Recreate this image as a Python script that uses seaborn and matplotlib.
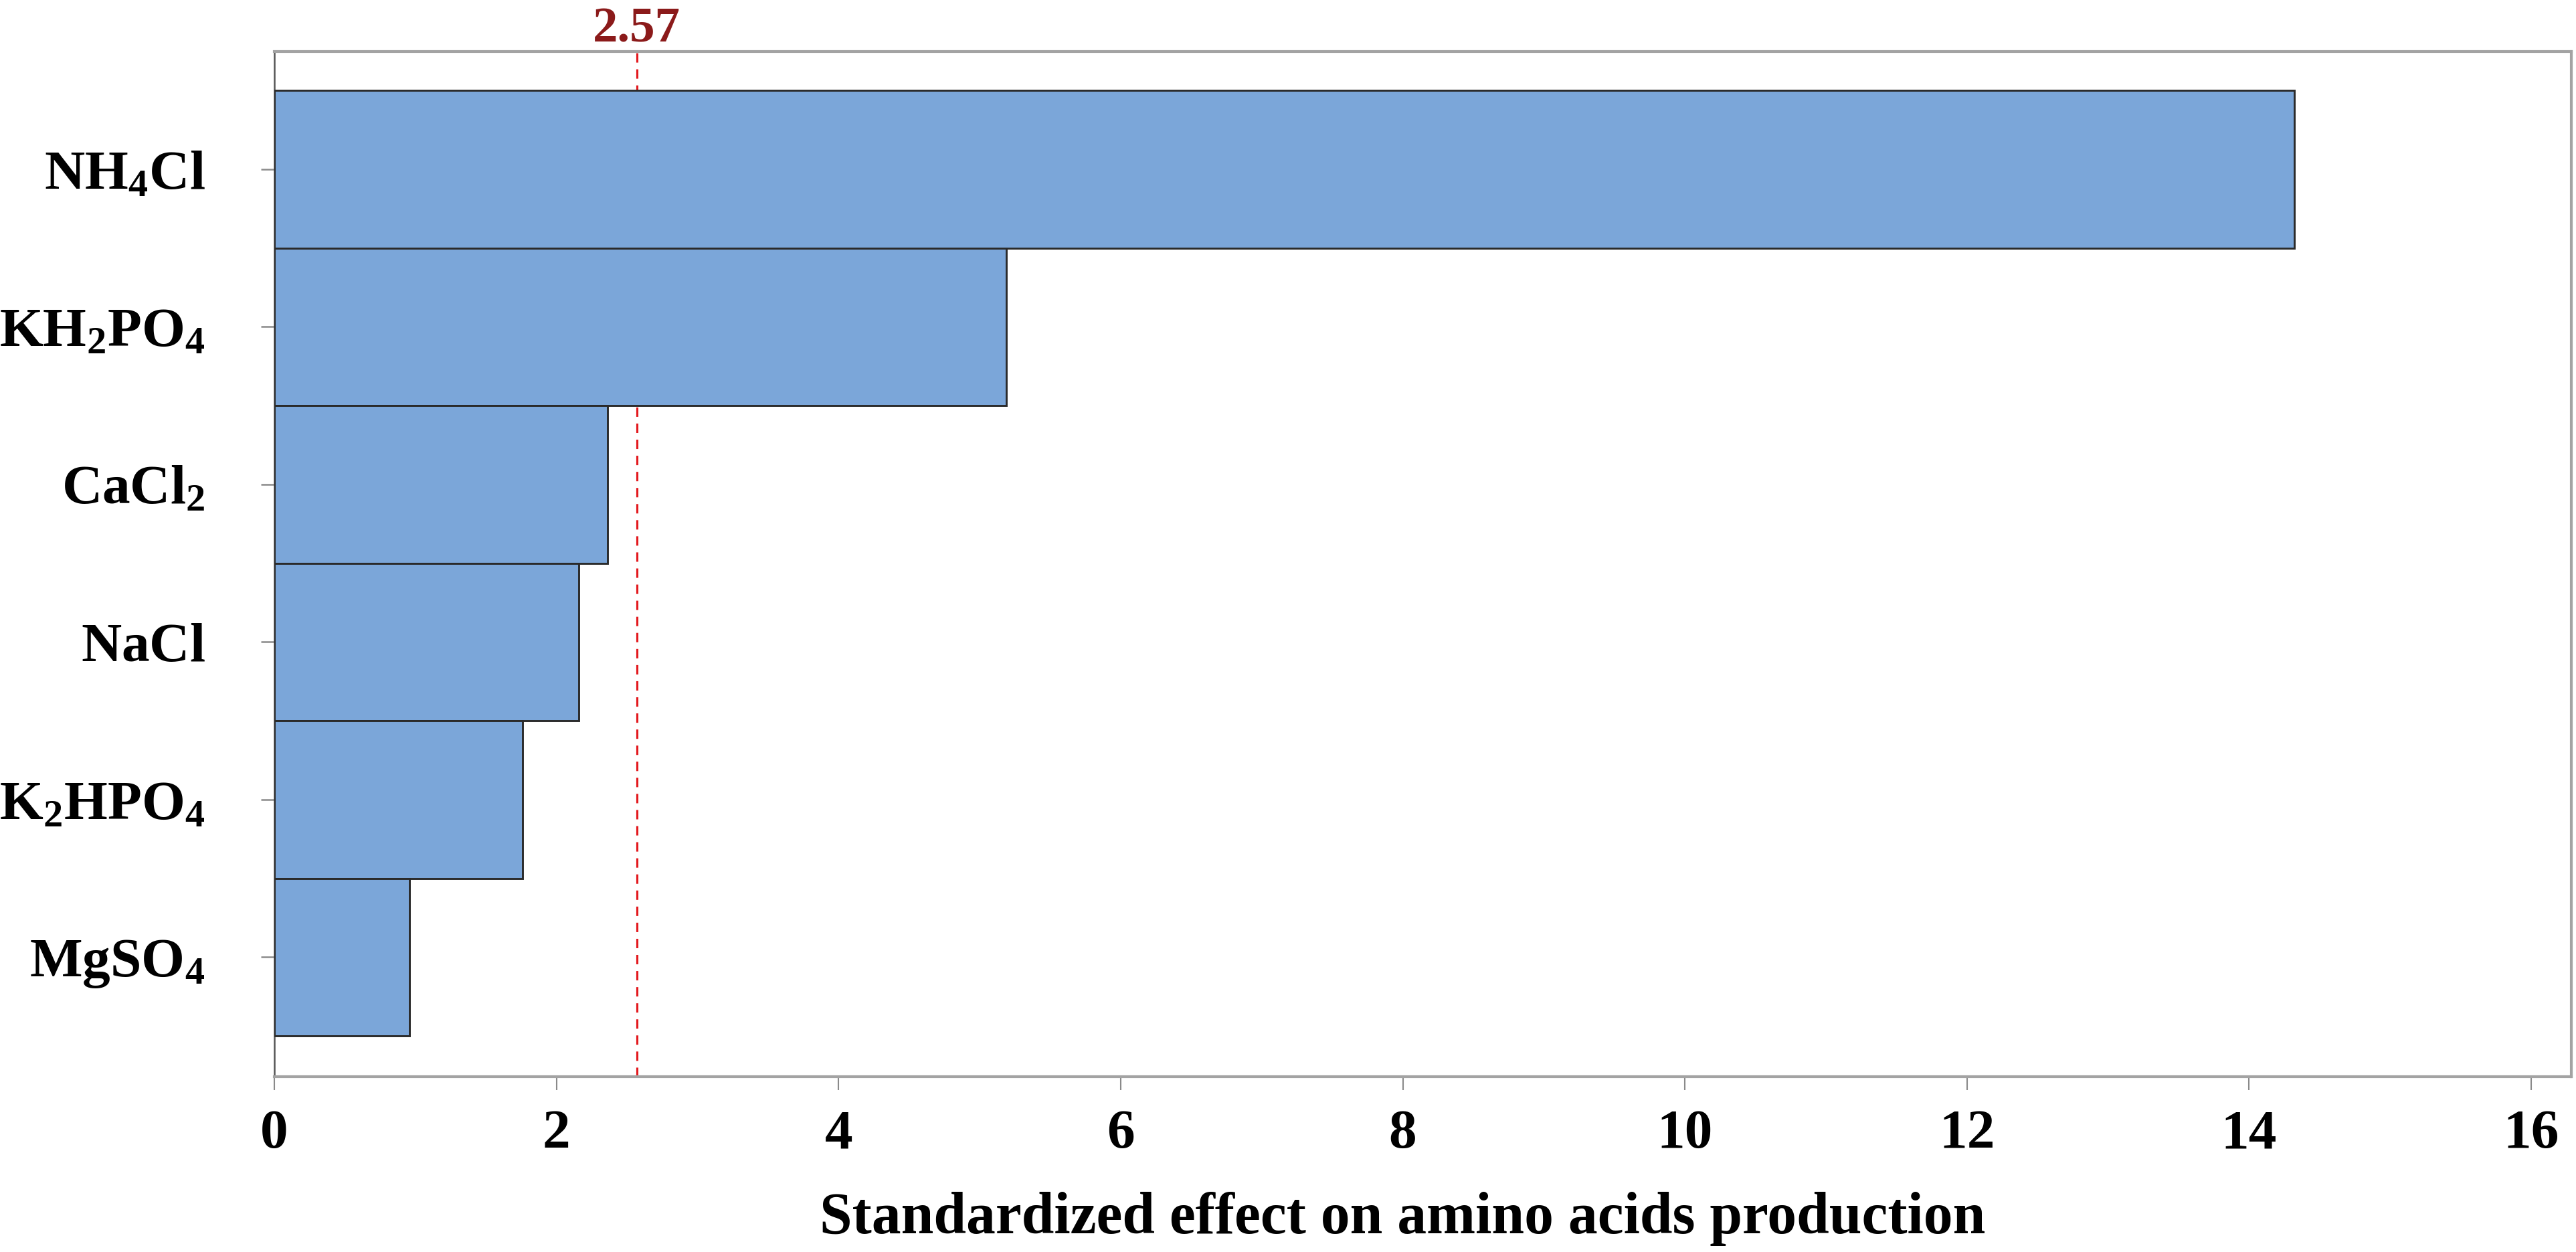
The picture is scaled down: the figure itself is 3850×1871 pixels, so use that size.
import matplotlib
matplotlib.use('Agg')
import matplotlib.pyplot as plt
import pandas as pd
import seaborn as sns

# Pareto chart values (standardized effects)
factors = [r'$\mathbf{NH_4Cl}$', r'$\mathbf{KH_2PO_4}$', r'$\mathbf{CaCl_2}$',
           r'$\mathbf{NaCl}$', r'$\mathbf{K_2HPO_4}$', r'$\mathbf{MgSO_4}$']
effects = [14.32, 5.19, 2.36, 2.16, 1.76, 0.96]
x_ticks = [0, 2, 4, 6, 8, 10, 12, 14, 16]
ref_value = 2.57

df = pd.DataFrame({'Factor': factors, 'Effect': effects})

sns.set_theme(style='white')
plt.rcParams['font.family'] = ['Liberation Serif', 'DejaVu Serif']
plt.rcParams['font.weight'] = 'bold'
plt.rcParams['mathtext.fontset'] = 'custom'
plt.rcParams['mathtext.rm'] = 'Liberation Serif:bold'
plt.rcParams['mathtext.bf'] = 'Liberation Serif:bold'
plt.rcParams['mathtext.it'] = 'Liberation Serif:bold'
plt.rcParams['text.color'] = 'black'
plt.rcParams['axes.labelcolor'] = 'black'
plt.rcParams['xtick.labelcolor'] = 'black'
plt.rcParams['ytick.labelcolor'] = 'black'

fig = plt.figure(figsize=(3850 / 300, 1871 / 300), dpi=300)
ax = fig.add_axes([0.1065, 0.14, 0.8917, 0.8188])

sns.barplot(data=df, y='Factor', x='Effect', orient='h', width=1.0,
            color='#7BA6D9', saturation=1, edgecolor='#2a2a2a', linewidth=0.7,
            ax=ax, zorder=3)

# critical value line
ax.axvline(ref_value, color='#E3191E', linestyle=(0, (4.5, 3.2)), linewidth=0.75, zorder=2)
ax.annotate(f'{ref_value:.2f}', xy=(ref_value, 1.0), xycoords=('data', 'axes fraction'),
            xytext=(0, 3.4), textcoords='offset points', ha='center', va='baseline',
            fontsize=18, fontweight='bold', color='#8B1A1A')

ax.set_xlim(0, 16.285)
ax.set_ylim(5.759, -0.746)
ax.set_xticks(x_ticks)
ax.set_xticklabels([str(t) for t in x_ticks])

for side in ['top', 'right', 'bottom', 'left']:
    ax.spines[side].set_color('#A3A3A3')
    ax.spines[side].set_linewidth(1.0)
ax.spines['left'].set_color('#555555')
ax.spines['left'].set_linewidth(0.6)

ax.tick_params(axis='x', direction='out', length=4.8, width=0.5, color='#8a8a8a',
               pad=7, labelsize=20, bottom=True)
ax.tick_params(axis='y', direction='out', length=4.8, width=0.6, color='#8a8a8a',
               pad=20, labelsize=20, left=True)
for lab in ax.get_xticklabels():
    lab.set_fontweight('bold')

ax.set_ylabel('')
ax.set_xlabel('Standardized effect on amino acids production', fontsize=21,
              fontweight='bold')
ax.xaxis.set_label_coords(8 / 16.285, -0.112)
ax.xaxis.label.set_verticalalignment('top')

fig.savefig('out.png', dpi=300, facecolor='white')
